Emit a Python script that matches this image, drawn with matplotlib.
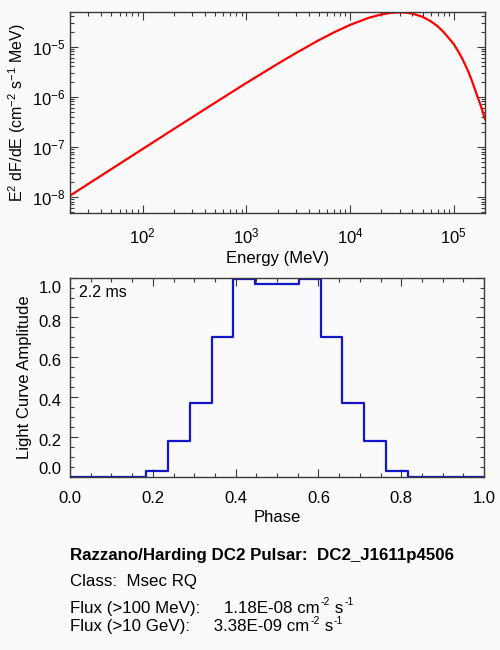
import numpy as np
import matplotlib
matplotlib.use("Agg")
import matplotlib.pyplot as plt
import matplotlib.ticker as ticker
import matplotlib.transforms as mtransforms

plt.rcParams['font.family'] = ['Liberation Sans', 'DejaVu Sans']
plt.rcParams['mathtext.fontset'] = 'custom'
plt.rcParams['mathtext.rm'] = 'Liberation Sans'
plt.rcParams['mathtext.it'] = 'Liberation Sans'
plt.rcParams['mathtext.default'] = 'regular'

# Spectrum: E^2 dF/dE
energy = [20, 50, 100, 200, 500, 1000, 2000, 3000, 5000, 7000, 1e4, 1.5e4, 2e4,
          2.5e4, 3e4, 3.5e4, 4e4, 5e4, 6e4, 7e4, 8e4, 9e4, 1e5, 1.1e5, 1.2e5,
          1.3e5, 1.4e5, 1.5e5, 1.6e5, 1.7e5, 1.8e5, 1.9e5, 2e5]
e2dfde = [1.05e-8, 3.56e-8, 8.95e-8, 2.25e-7, 7.55e-7, 1.87e-6, 4.50e-6, 7.40e-6,
          1.34e-5, 1.92e-5, 2.71e-5, 3.73e-5, 4.39e-5, 4.73e-5, 4.83e-5, 4.76e-5,
          4.55e-5, 3.94e-5, 3.21e-5, 2.54e-5, 1.94e-5, 1.46e-5, 1.12e-5, 8.1e-6,
          5.9e-6, 4.17e-6, 2.95e-6, 2.04e-6, 1.40e-6, 9.7e-7, 7.1e-7, 5.0e-7, 3.55e-7]

# Light curve: 20 phase points, drawn as centred steps
phase = [k / 19 for k in range(20)]
amplitude = [0.0, 0.0, 0.0, 0.0, 0.033, 0.183, 0.37, 0.703, 0.993, 0.97,
             0.97, 0.993, 0.703, 0.37, 0.183, 0.033, 0.0, 0.0, 0.0, 0.0]

period_label = "2.2 ms"
title_line = "Razzano/Harding DC2 Pulsar:  DC2_J1611p4506"
class_line = "Class:  Msec RQ"
# flux lines as (text, superscript) pieces
flux_lines = [[("Flux (>100 MeV):     1.18E-08 cm", "-2"), (" s", "-1")],
              [("Flux (>10 GeV):     3.38E-09 cm", "-2"), (" s", "-1")]]

bg = '#fafafa'
edge = '#3a3a3a'
fs = 12
info_fs = 12.2

fig = plt.figure(figsize=(5, 6.5), dpi=100, facecolor=bg)


def style_axes(ax, ypad):
    ax.set_facecolor(bg)
    for s in ax.spines.values():
        s.set_color(edge)
        s.set_linewidth(1.0)
    ax.tick_params(which='both', direction='in', top=True, right=True,
                   color=edge, labelsize=fs, width=0.8)
    ax.tick_params(which='major', length=6)
    ax.tick_params(which='minor', length=3)
    ax.tick_params(axis='x', pad=10)
    ax.tick_params(axis='y', pad=ypad)


# top panel: spectrum
ax1 = fig.add_axes([0.14, 0.673, 0.83, 0.308])
style_axes(ax1, 3)
ax1.loglog(energy, e2dfde, color='#ff0000', lw=1.6)
ax1.set_xlim(20, 2e5)
ax1.set_ylim(4.83e-9, 4.83e-5)
ax1.xaxis.set_minor_locator(ticker.LogLocator(base=10, subs=np.arange(2, 10), numticks=20))
ax1.yaxis.set_minor_locator(ticker.LogLocator(base=10, subs=np.arange(2, 10), numticks=20))
ax1.xaxis.set_minor_formatter(ticker.NullFormatter())
ax1.yaxis.set_minor_formatter(ticker.NullFormatter())
ax1.set_xlabel("Energy (MeV)", fontsize=fs, labelpad=3)
ax1.set_ylabel("E$^2$ dF/dE (cm$^{-2}$ s$^{-1}$ MeV)", fontsize=11.5, labelpad=3)

# bottom panel: light curve
ax2 = fig.add_axes([0.14, 0.266, 0.828, 0.307])
style_axes(ax2, 6)
ax2.step(phase, amplitude, where='mid', color='#1414c8', lw=1.6)
ax2.set_xlim(0, 1)
ax2.set_ylim(0, 1)
ax2.set_xticks(np.arange(0, 1.01, 0.2))
ax2.set_yticks(np.arange(0, 1.01, 0.2))
ax2.xaxis.set_minor_locator(ticker.MultipleLocator(0.05))
ax2.yaxis.set_minor_locator(ticker.MultipleLocator(0.05))
ax2.xaxis.set_major_formatter(ticker.FormatStrFormatter('%.1f'))
ax2.yaxis.set_major_formatter(ticker.FormatStrFormatter('%.1f'))
ax2.set_xlabel("Phase", fontsize=fs, labelpad=3)
ax2.set_ylabel("Light Curve Amplitude", fontsize=fs, labelpad=5)
ax2.text(0.022, 0.965, period_label, transform=ax2.transAxes, fontsize=fs - 0.5,
         ha='left', va='top')

# IDL-like placement of the y labels: middle ones slightly low, end ones inside
fig.canvas.draw()
down = mtransforms.ScaledTranslation(0, -2.2 / 72, fig.dpi_scale_trans)
ylabs = ax2.get_yticklabels()
for lab in ylabs[1:]:
    lab.set_transform(lab.get_transform() + down)
ylabs[0].set_va('bottom')
ylabs[-1].set_va('top')

# info text
fig.text(0.14, 0.146, title_line, fontsize=info_fs, fontweight='bold', ha='left', va='center')
fig.text(0.14, 0.105, class_line, fontsize=info_fs, ha='left', va='center')

renderer = fig.canvas.get_renderer()
for line, yc in zip(flux_lines, [0.0646, 0.0354]):
    x = 0.14
    for main, sup in line:
        t = fig.text(x, yc, main, fontsize=info_fs, ha='left', va='center')
        w = t.get_window_extent(renderer).width / fig.bbox.width
        x += w
        s = fig.text(x + 0.002, yc + 0.009, sup, fontsize=7.5, ha='left', va='center')
        x += s.get_window_extent(renderer).width / fig.bbox.width + 0.002

fig.savefig("out.png", dpi=100, facecolor=bg)
